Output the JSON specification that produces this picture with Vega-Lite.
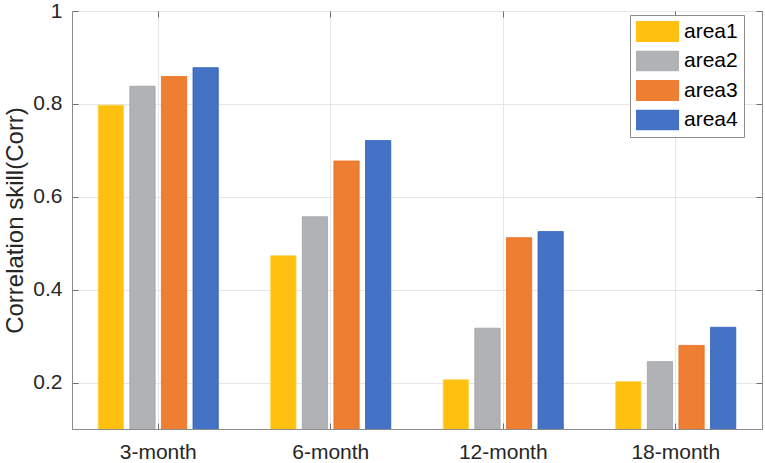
{
  "$schema": "https://vega.github.io/schema/vega-lite/v6.json",
  "autosize": {"type": "none"},
  "width": 690,
  "height": 418,
  "padding": {"left": 72, "top": 11, "right": 3, "bottom": 34},
  "background": "white",
  "config": {
    "font": "Liberation Sans",
    "view": {"stroke": "#8c8c8c", "strokeWidth": 1},
    "axis": {
      "domainColor": "#8c8c8c",
      "tickColor": "#6e6e6e",
      "gridColor": "#e6e6e6",
      "labelColor": "#262626",
      "titleColor": "#262626",
      "labelFont": "Liberation Sans",
      "titleFont": "Liberation Sans",
      "labelFontSize": 21,
      "titleFontSize": 24,
      "titleFontWeight": "normal"
    }
  },
  "data": {
    "values": [
      {"lead": "3-month", "area": "area1", "corr": 0.797},
      {"lead": "3-month", "area": "area2", "corr": 0.838},
      {"lead": "3-month", "area": "area3", "corr": 0.859},
      {"lead": "3-month", "area": "area4", "corr": 0.878},
      {"lead": "6-month", "area": "area1", "corr": 0.473},
      {"lead": "6-month", "area": "area2", "corr": 0.557},
      {"lead": "6-month", "area": "area3", "corr": 0.677},
      {"lead": "6-month", "area": "area4", "corr": 0.721},
      {"lead": "12-month", "area": "area1", "corr": 0.206},
      {"lead": "12-month", "area": "area2", "corr": 0.317},
      {"lead": "12-month", "area": "area3", "corr": 0.512},
      {"lead": "12-month", "area": "area4", "corr": 0.525},
      {"lead": "18-month", "area": "area1", "corr": 0.202},
      {"lead": "18-month", "area": "area2", "corr": 0.245},
      {"lead": "18-month", "area": "area3", "corr": 0.28},
      {"lead": "18-month", "area": "area4", "corr": 0.319}
    ]
  },
  "layer": [
    {
      "mark": {"type": "bar", "strokeWidth": 0.8, "clip": true},
      "encoding": {
        "x": {
          "field": "lead",
          "type": "nominal",
          "sort": ["3-month", "6-month", "12-month", "18-month"],
          "scale": {"paddingInner": 0.304, "paddingOuter": 0.152},
          "axis": {
            "title": null,
            "labelAngle": 0,
            "bandPosition": 0.5,
            "grid": true,
            "tickSize": -6,
            "labelPadding": 18,
            "domain": true
          }
        },
        "xOffset": {
          "field": "area",
          "type": "nominal",
          "scale": {"paddingInner": 0.2, "paddingOuter": 0}
        },
        "y": {
          "field": "corr",
          "type": "quantitative",
          "scale": {"domain": [0.1, 1], "nice": false, "zero": false},
          "axis": {
            "title": "Correlation skill(Corr)",
            "values": [0.2, 0.4, 0.6, 0.8, 1],
            "labelExpr": "datum.value == 1 ? '1' : format(datum.value, '.1f')",
            "grid": true,
            "tickSize": -6,
            "labelPadding": 16,
            "titlePadding": 5
          }
        },
        "color": {
          "field": "area",
          "type": "nominal",
          "scale": {
            "domain": ["area1", "area2", "area3", "area4"],
            "range": ["#FFC010", "#B1B2B6", "#EE7E32", "#4472C4"]
          },
          "legend": {
            "title": null,
            "orient": "none",
            "legendX": 558,
            "legendY": 4,
            "fillColor": "white",
            "strokeColor": "#8c8c8c",
            "padding": 6,
            "symbolType": "M-1.05,-0.5H1.05V0.5H-1.05Z",
            "symbolSize": 1764,
            "symbolStrokeWidth": 0,
            "symbolOpacity": 1,
            "labelFontSize": 21,
            "labelColor": "#000000",
            "labelFont": "Liberation Sans",
            "clipHeight": 21,
            "rowPadding": 7.5,
            "labelOffset": 6
          }
        },
        "stroke": {
          "field": "area",
          "type": "nominal",
          "scale": {
            "domain": ["area1", "area2", "area3", "area4"],
            "range": ["#FFD040", "#A0A1A5", "#E8701E", "#2F5FB5"]
          },
          "legend": null
        }
      }
    },
    {
      "mark": {"type": "bar", "opacity": 0},
      "encoding": {
        "x": {
          "field": "lead",
          "type": "nominal",
          "sort": ["3-month", "6-month", "12-month", "18-month"],
          "axis": {
            "orient": "top",
            "title": null,
            "labels": false,
            "bandPosition": 0.5,
            "grid": false,
            "tickSize": -6,
            "domain": false
          }
        },
        "y": {
          "field": "corr",
          "type": "quantitative",
          "axis": {
            "orient": "right",
            "title": null,
            "labels": false,
            "values": [0.2, 0.4, 0.6, 0.8, 1],
            "grid": false,
            "tickSize": -6,
            "domain": false
          }
        }
      }
    }
  ],
  "resolve": {"axis": {"x": "independent", "y": "independent"}}
}
